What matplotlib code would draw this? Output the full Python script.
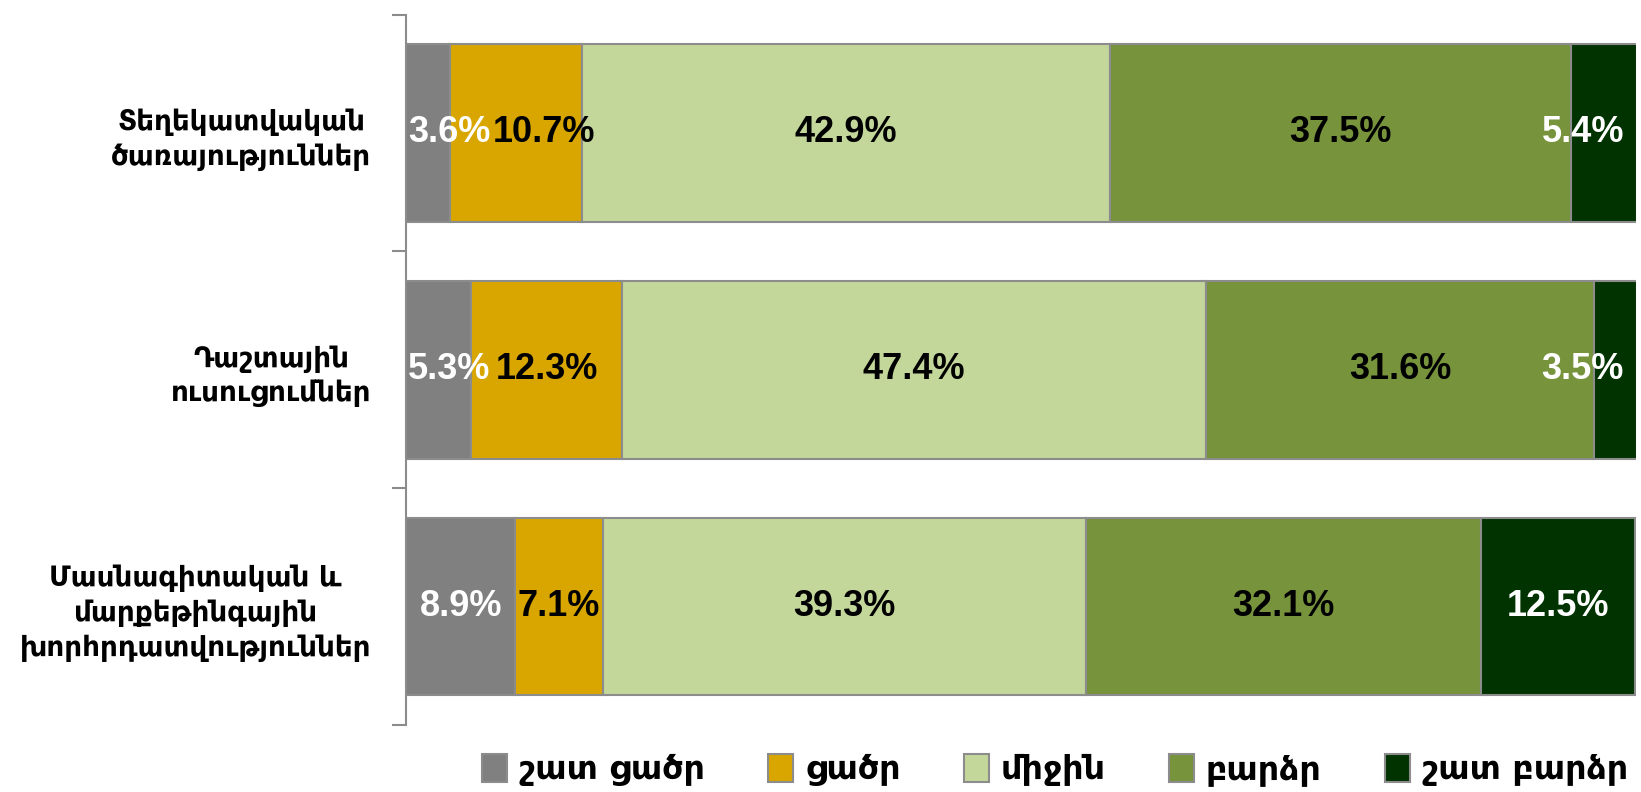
import numpy as np
import matplotlib.pyplot as plt

# դաշտերը / տվյալները
categories = ['Տեղեկատվական\nծառայություններ',
              'Դաշտային\nուսուցումներ',
              'Մասնագիտական և\nմարքեթինգային\nխորհրդատվություններ']
levels = ['շատ ցածր', 'ցածր', 'միջին', 'բարձր', 'շատ բարձր']
very_low = [3.6, 5.3, 8.9]
low = [10.7, 12.3, 7.1]
medium = [42.9, 47.4, 39.3]
high = [37.5, 31.6, 32.1]
very_high = [5.4, 3.5, 12.5]

colors = ['#808080', '#D9A600', '#C4D79B', '#77933C', '#003300']
text_colors = ['white', 'black', 'black', 'black', 'white']

series = [very_low, low, medium, high, very_high]
num_fam = ['Liberation Sans', 'DejaVu Sans']
arm_fam = ['DejaVu Sans']

fig = plt.figure(figsize=(16.41, 7.92), dpi=100)
ax = fig.add_axes([0.2474, 0.0846, 0.997 - 0.2474, 0.9816 - 0.0846])

y = np.arange(len(categories))
left = np.zeros(len(categories))
labels = [[] for _ in categories]
for k, vals in enumerate(series):
    vals = np.array(vals)
    ax.barh(y, vals, left=left, height=0.75, color=colors[k],
            edgecolor='#8C8C8C', linewidth=1.5, label=levels[k])
    for i, v in enumerate(vals):
        t = ax.text(left[i] + v / 2, y[i], f'{v:.1f}%', ha='center',
                    va='center', color=text_colors[k], fontsize=26,
                    fontweight='bold', family=num_fam)
        labels[i].append(t)
    left += vals

ax.set_xlim(0, 100)
ax.set_ylim(2.5, -0.5)

# ետ հրել իրար վրա ընկած պիտակները
fig.canvas.draw()
r = fig.canvas.get_renderer()
inv = ax.transData.inverted()
ax_box = ax.get_window_extent(r)
for row in labels:
    prev_right = ax_box.x0
    for j, t in enumerate(row):
        bb = t.get_window_extent(r)
        shift = 0
        if bb.x0 < prev_right + 2:
            shift = prev_right + 2 - bb.x0
        if bb.x1 + shift > ax_box.x1 - 12:
            shift = ax_box.x1 - 12 - bb.x1
        if shift:
            x, yy = t.get_position()
            xd = ax.transData.transform((x, yy))
            t.set_position(inv.transform((xd[0] + shift, xd[1])))
        prev_right = bb.x1 + shift

ax.set_yticks(y)
ax.set_yticklabels(categories, fontsize=20, fontweight='bold',
                   family=arm_fam, ha='right', multialignment='center',
                   linespacing=1.3)
ax.tick_params(axis='y', which='major', length=0, pad=25)
ax.set_yticks([-0.5, 0.5, 1.5, 2.5], minor=True)
ax.tick_params(axis='y', which='minor', length=10, width=1.5, color='#8C8C8C')
ax.set_xticks([])
for s in ['top', 'right', 'bottom']:
    ax.spines[s].set_visible(False)
ax.spines['left'].set_color('#8C8C8C')
ax.spines['left'].set_linewidth(1.5)

fig.legend(loc='center', bbox_to_anchor=(0.643, 0.028), ncol=5, frameon=False,
           prop={'family': arm_fam, 'weight': 'bold', 'size': 24},
           handlelength=0.75, handleheight=0.9, handletextpad=0.35,
           columnspacing=1.9, borderpad=0.1)

fig.savefig('out.png', dpi=100)
